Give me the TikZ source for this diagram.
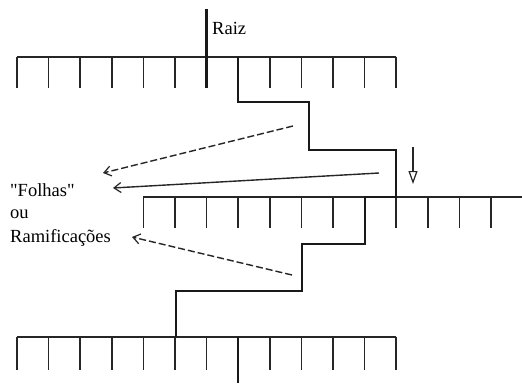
\documentclass[tikz,border=0pt]{standalone}
\usepackage{fontspec}
\setmainfont{Liberation Serif}[Ligatures=TeXOff]
\usetikzlibrary{arrows.meta}
\begin{document}
\begin{tikzpicture}[x=1pt,y=-1pt,
  rule/.style={line width=1.4pt,black!85},
  tick/.style={line width=1.5pt,black!85},
  stem/.style={line width=2pt,black!90,line join=miter},
  growth/.style={line width=1.4pt,black!85,-{Straight Barb[length=7pt,width=10pt,line width=1.2pt]}},
  dashedgrowth/.style={growth,dash pattern=on 7pt off 3pt},
  label/.style={inner sep=0pt,font=\fontsize{18.5}{24}\selectfont}]
\useasboundingbox (0,0) rectangle (522,383);
\fill[white] (0,0) rectangle (522,383);

% top ruler with the root
\draw[rule] (17,57) -- (396.2,57);
\foreach \k in {0,...,5,8,9,10,11,12}
  \draw[tick] ({17+31.6*\k},57) -- ({17+31.6*\k},88);
\draw[line width=2.4pt,black!90] (206.6,9) -- (206.6,88);
\node[label,anchor=west] (raiz) at (212,28) {Raiz};

% middle ruler
\draw[rule] (143.4,197) -- (522,197);
\foreach \k in {4,...,10,12,13,14,15}
  \draw[tick] ({17+31.6*\k},197) -- ({17+31.6*\k},228);

% bottom ruler
\draw[rule] (17,337) -- (396.2,337);
\foreach \k in {0,...,6,8,9,10,11,12}
  \draw[tick] ({17+31.6*\k},337) -- ({17+31.6*\k},370);
\draw[line width=2pt,black!90] (238.2,337) -- (238.2,383);

% stepped stem
\draw[stem] (238.2,57) -- (238.2,102) -- (309,102) -- (309,150) -- (396.2,150)
  -- (396.2,197) -- (364.6,197) -- (364.6,244) -- (302,244) -- (302,291)
  -- (176,291) -- (176,337);

% downward growth direction
\coordinate (vtop) at (413,147);
\coordinate (vbot) at (413,184);
\draw[line width=1.4pt,black!85,-{Triangle[open,length=13pt,width=9pt,line width=1.2pt]}] (vtop) -- (vbot);

% labels
\node[label,anchor=west] (folhas) at (10,190) {"Folhas"};
\node[label,anchor=west] (ou) at (10,214) {ou};
\node[label,anchor=west] (ramif) at (10,238) {Ramificações};

% arrows towards the labels
\coordinate (a1) at (293,126);
\coordinate (a2) at (379,173);
\coordinate (a3) at (292,275);
\coordinate (t1) at (103,173);
\coordinate (t2) at (113,188);
\coordinate (t3) at (132,237);
\draw[dashedgrowth] (a1) -- (t1);
\draw[growth] (a2) -- (t2);
\draw[dashedgrowth] (a3) -- (t3);
\end{tikzpicture}
\end{document}
